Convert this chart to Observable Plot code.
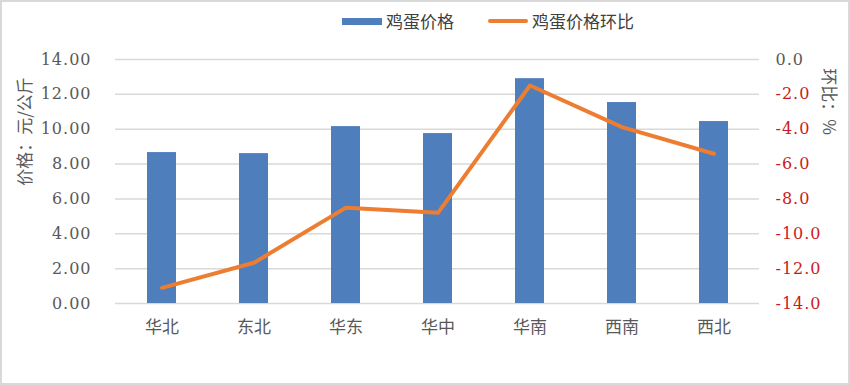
<!DOCTYPE html>
<html>
<head>
<meta charset="utf-8">
<script src="https://cdn.jsdelivr.net/npm/d3@7"></script>
<script src="https://cdn.jsdelivr.net/npm/@observablehq/plot@0.6"></script>
<style>
  body { margin: 0; background: #fff; }
  #wrap { position: relative; width: 850px; height: 385px; overflow: hidden; background: #fff; }
  #wrap svg { position: absolute; left: 0; top: 0; }
  #border { position: absolute; left: 0; top: 0; width: 850px; height: 385px; box-sizing: border-box; border: 2px solid #d9d9d9; pointer-events: none; }
  #legend { position: absolute; top: 8px; left: 0; width: 850px; height: 26px; font-family: "Noto Sans CJK SC", sans-serif; font-size: 17px; color: #404040; }
  .li { position: absolute; top: 0; line-height: 26px; white-space: nowrap; }
  .sw { display: inline-block; vertical-align: middle; margin-right: 4px; }
  text.num { font-family: "DejaVu Serif", serif !important; letter-spacing: 1px; }
</style>
</head>
<body>
<div id="wrap">
  <div id="legend">
    <div class="li" style="left:342px"><span class="sw" style="width:40px;height:7px;background:#4F7EBC;position:relative;top:-2px"></span>鸡蛋价格</div>
    <div class="li" style="left:488px"><span class="sw" style="width:40px;height:4px;background:#ED7D31;border-radius:2px;position:relative;top:-2px"></span>鸡蛋价格环比</div>
  </div>
  <div id="border"></div>
</div>
<script>
const regions = ["华北", "东北", "华东", "华中", "华南", "西南", "西北"];
const prices = [8.66, 8.60, 10.15, 9.75, 12.90, 11.53, 10.44];
const mom = [-13.1, -11.66, -8.5, -8.8, -1.49, -3.88, -5.41];
const leftTicks = [0, 2, 4, 6, 8, 10, 12, 14];
const rightTicks = [0, -2, -4, -6, -8, -10, -12, -14];

const data = regions.map((r, i) => ({region: r, price: prices[i], mom: mom[i]}));
const offset = 14; // maps right axis [-14, 0] onto left axis [0, 14]

const cjkFont = "Noto Sans CJK SC";
const numFont = "DejaVu Serif";

const chart = Plot.plot({
  width: 850,
  height: 385,
  marginTop: 59,
  marginBottom: 82,
  marginLeft: 115,
  marginRight: 91,
  style: {background: "transparent", overflow: "visible"},
  x: {domain: regions, paddingInner: 0.685, paddingOuter: 0.3425, label: null},
  y: {domain: [0, 14], label: null, axis: null},
  marks: [
    Plot.gridY(leftTicks, {stroke: "#d9d9d9", strokeOpacity: 1, strokeWidth: 1.5}),
    Plot.barY(data, {x: "region", y: "price", fill: "#4F7EBC"}),
    Plot.line(data, {x: "region", y: d => d.mom + offset, stroke: "#ED7D31", strokeWidth: 4, strokeLinejoin: "round", strokeLinecap: "round"}),
    Plot.text(leftTicks, {y: d => d, frameAnchor: "left", textAnchor: "end", dx: -24, text: d => d.toFixed(2), fontFamily: numFont, fontSize: 16, fill: "#595959"}),
    Plot.text(rightTicks, {y: d => d + offset, frameAnchor: "right", textAnchor: "start", dx: 16, text: d => d.toFixed(1), fontFamily: numFont, fontSize: 16, fill: d => d === 0 ? "#595959" : "#cc1a22"}),
    Plot.axisX({tickSize: 0, tickPadding: 17, fontFamily: cjkFont, fontSize: 17, fill: "#595959"}),
    Plot.text(["价格：元/公斤"], {frameAnchor: "left", textAnchor: "middle", dx: -90, dy: -50, rotate: -90, fontFamily: cjkFont, fontSize: 17, fill: "#595959"}),
    Plot.text(["环比：%"], {frameAnchor: "right", textAnchor: "middle", dx: 69, dy: -80, rotate: 90, fontFamily: cjkFont, fontSize: 17, fill: "#595959"})
  ]
});
d3.select(chart).selectAll("text")
  .filter(function() { return /^[−\-]?\d/.test(this.textContent); })
  .classed("num", true);
document.getElementById("wrap").prepend(chart);
</script>
</body>
</html>
